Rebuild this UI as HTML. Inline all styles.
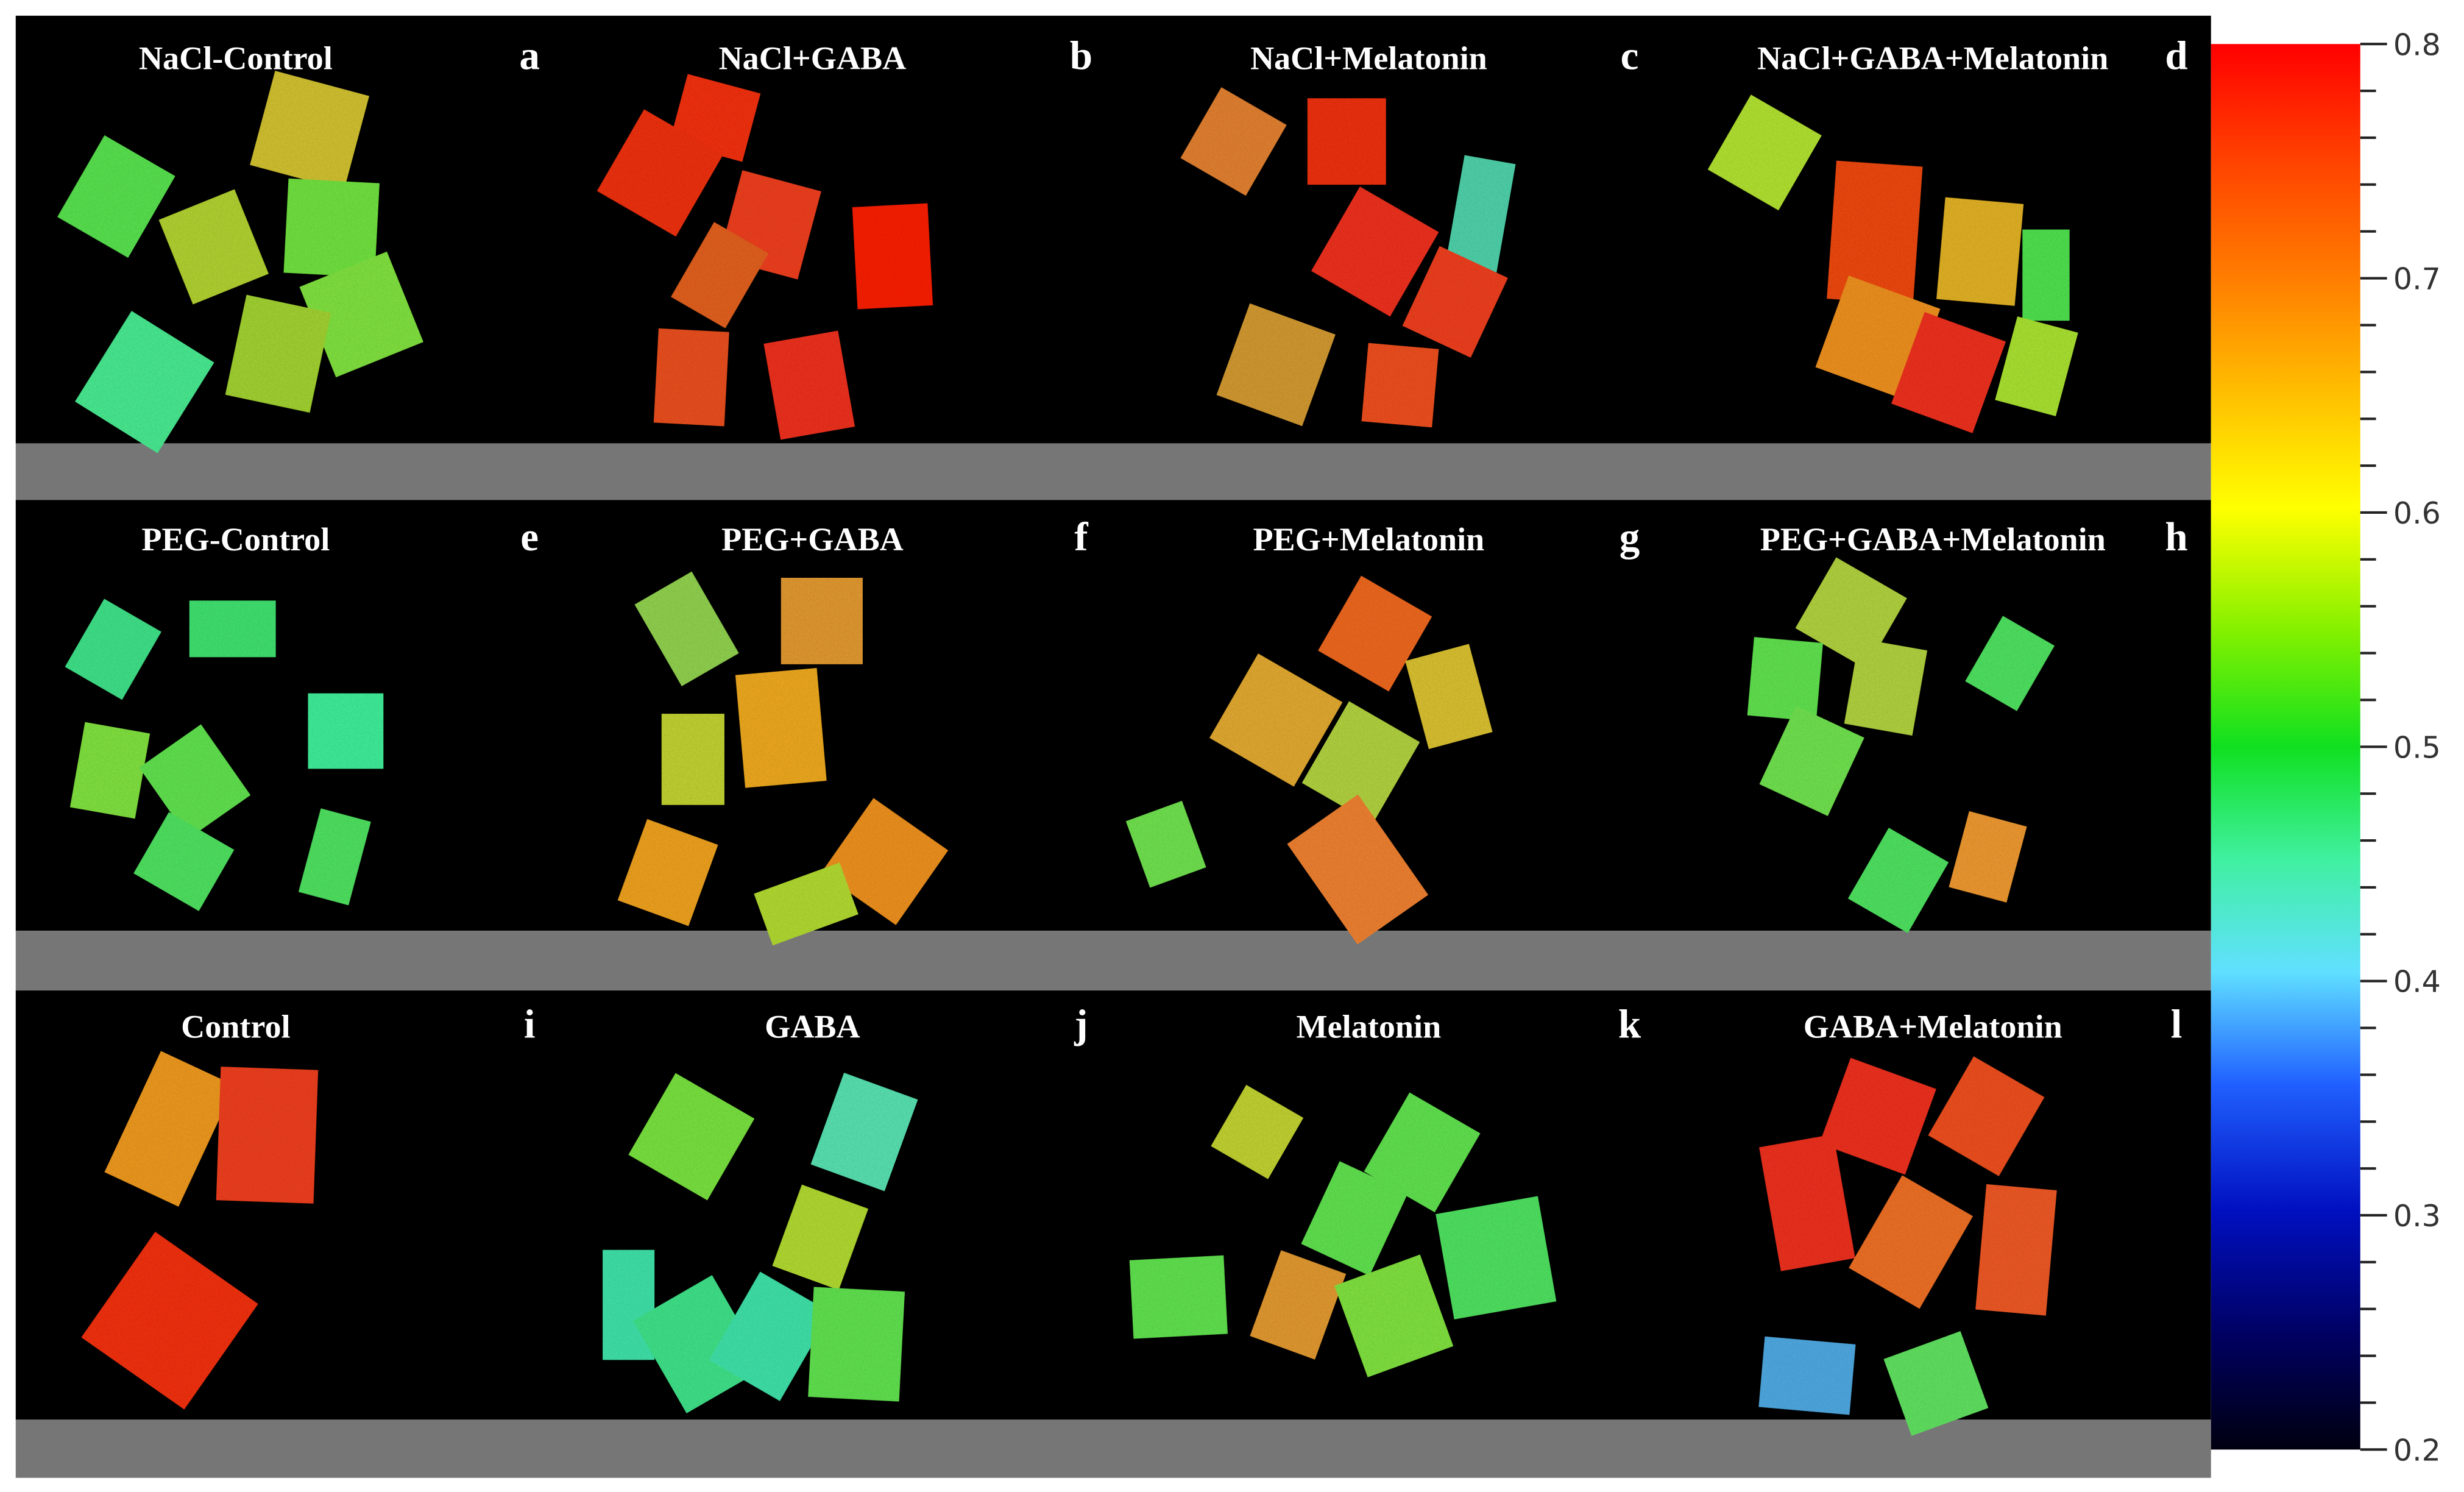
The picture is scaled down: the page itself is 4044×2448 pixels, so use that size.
<!DOCTYPE html>
<html><head><meta charset="utf-8"><style>
html,body{margin:0;padding:0;background:#fff;}
svg{display:block;}
</style></head><body>
<svg id="fig" xmlns="http://www.w3.org/2000/svg" width="4044" height="2448" viewBox="0 0 1568 949" preserveAspectRatio="none">
<defs>
<linearGradient id="cbar" x1="0" y1="1" x2="0" y2="0">
<stop offset="0" stop-color="#000010"/>
<stop offset="0.08" stop-color="#000060"/>
<stop offset="0.17" stop-color="#0010c0"/>
<stop offset="0.26" stop-color="#2060ff"/>
<stop offset="0.34" stop-color="#60e0ff"/>
<stop offset="0.42" stop-color="#40f0a0"/>
<stop offset="0.5" stop-color="#10e020"/>
<stop offset="0.58" stop-color="#80f000"/>
<stop offset="0.67" stop-color="#ffff00"/>
<stop offset="0.75" stop-color="#ffc000"/>
<stop offset="0.83" stop-color="#ff8000"/>
<stop offset="0.92" stop-color="#ff4000"/>
<stop offset="1" stop-color="#ff0000"/>
</linearGradient>
<filter id="grain" x="0" y="0" width="100%" height="100%">
<feTurbulence type="fractalNoise" baseFrequency="0.9" numOctaves="2" result="n"/>
<feColorMatrix in="n" type="matrix" values="0 0 0 0 0  0 0 0 0 0  0 0 0 0 0  0 0 0 0.22 0" result="d"/>
<feComposite in="d" in2="SourceGraphic" operator="in" result="dd"/>
<feMerge><feMergeNode in="SourceGraphic"/><feMergeNode in="dd"/></feMerge>
</filter>
</defs>
<g id="panels"></g>
<g id="colorbar"></g>
</svg>
<script>
// Leaf data per panel: [cx, cy, w, h, angle, colour] in figure units
const panelTitles = ["NaCl-Control","NaCl+GABA","NaCl+Melatonin","NaCl+GABA+Melatonin","PEG-Control","PEG+GABA","PEG+Melatonin","PEG+GABA+Melatonin","Control","GABA","Melatonin","GABA+Melatonin"];
const panelLetters = ["a","b","c","d","e","f","g","h","i","j","k","l"];
const leavesA = [[197,83,62,62,15,"#d0c030"],[74,125,52,60,30,"#58e050"],[136,157,52,58,-22,"#b0d030"],[211,145,58,60,3,"#70e040"],[230,200,60,62,-22,"#80e040"],[92,243,62,68,32,"#48e890"],[177,225,55,65,12,"#a0d030"]];
const leavesB = [[455,75,48,45,15,"#f03018"],[420,110,58,60,30,"#ec3018"],[490,143,52,58,15,"#ec4020"],[458,175,40,55,30,"#e06020"],[568,163,48,65,-3,"#f82010"],[440,240,45,60,3,"#e85020"],[515,245,48,62,-10,"#ec3020"]];
const leavesC = [[785,90,48,52,30,"#e08030"],[857,90,50,55,0,"#ec3018"],[875,160,58,62,30,"#ec3020"],[942,137,33,72,10,"#50d0a8"],[926,192,48,56,25,"#ec4020"],[812,232,58,62,20,"#d09830"],[891,245,45,50,5,"#ec5020"]];
const leavesD = [[1123,97,52,55,30,"#b0e030"],[1193,148,55,88,4,"#ec4818"],[1260,160,50,65,5,"#e0b028"],[1302,175,30,58,0,"#50e050"],[1195,215,62,62,20,"#ec9020"],[1240,237,55,62,20,"#ec3020"],[1296,233,40,55,15,"#a8e030"]];
const leavesE = [[72,413,42,50,30,"#40e088"],[148,400,55,36,0,"#40e070"],[220,465,48,48,0,"#40ec98"],[70,490,42,55,10,"#80e040"],[124,497,48,55,-35,"#60e050"],[117,548,48,45,30,"#50e060"],[213,545,33,55,15,"#50e060"]];
const leavesF = [[437,400,42,60,-30,"#90d050"],[523,395,52,55,0,"#e09830"],[441,483,40,58,0,"#c0d030"],[497,463,52,72,-5,"#eca820"],[425,555,48,55,20,"#eca020"],[563,548,58,58,35,"#ec9020"],[513,575,58,35,-20,"#b0d830"]];
const leavesG = [[875,403,52,55,30,"#ec6820"],[922,443,42,58,-15,"#d8c030"],[812,458,62,62,30,"#e0a830"],[866,485,52,60,30,"#b0d040"],[742,537,38,45,-20,"#70e050"],[864,553,55,78,-35,"#ec8030"]];
const leavesH = [[1178,390,52,52,30,"#b0d040"],[1279,422,38,48,30,"#50e060"],[1136,432,44,50,5,"#60e050"],[1200,437,44,55,10,"#b0d040"],[1153,484,48,55,25,"#70e050"],[1265,545,38,50,15,"#ec9830"],[1208,560,44,52,30,"#50e060"]];
const leavesI = [[108,718,52,85,25,"#ec9820"],[170,722,62,85,2,"#ec4020"],[108,840,80,82,35,"#f03018"]];
const leavesJ = [[440,723,58,60,30,"#78e040"],[550,720,50,62,20,"#58e0b0"],[522,787,45,55,20,"#b0d830"],[400,830,33,70,0,"#40e0a8"],[445,855,58,68,-30,"#40e088"],[490,850,52,65,30,"#40e0a8"],[545,855,58,70,3,"#60e050"]];
const leavesK = [[800,720,42,45,30,"#c0d030"],[905,733,52,58,30,"#60e050"],[862,775,48,58,25,"#60e050"],[750,825,60,50,-3,"#60e050"],[826,830,44,58,20,"#e09830"],[887,837,58,62,-20,"#80e040"],[952,800,66,68,-10,"#50e060"]];
const leavesL = [[1195,710,58,58,20,"#ec3020"],[1264,710,52,58,30,"#ec5020"],[1150,765,48,80,-10,"#ec3020"],[1216,790,52,68,30,"#ec7028"],[1283,795,45,80,5,"#ec5828"],[1150,875,58,45,5,"#50a8e0"],[1232,880,52,52,-20,"#60e060"]];
const panelLeaves = [leavesA,leavesB,leavesC,leavesD,leavesE,leavesF,leavesG,leavesH,leavesI,leavesJ,leavesK,leavesL];
// colorbar scale
const cbTicksMajor = [0.2,0.3,0.4,0.5,0.6,0.7,0.8];
const cbMin = 0.2, cbMax = 0.8, cbMinorStep = 0.02;

const NS = "http://www.w3.org/2000/svg";
function mk(tag, attrs, parent){const e=document.createElementNS(NS,tag);for(const k in attrs)e.setAttribute(k,attrs[k]);parent.appendChild(e);return e;}
const P = document.getElementById("panels");
const rowTop=[10,318,630], rowBlackBot=[282,592,903], rowGrayBot=[318,630,940];
const X0=10, X1=1407;
for(let r=0;r<3;r++){
  const bg=mk("rect",{x:X0,y:rowTop[r],width:X1-X0,height:rowBlackBot[r]-rowTop[r],fill:"#000"},P);
  
  
  const g=mk("rect",{x:X0,y:rowBlackBot[r],width:X1-X0,height:rowGrayBot[r]-rowBlackBot[r],fill:"#767676"},P);
  
  
}
const titleX=[150,517,871,1230], letterX=[337,688,1037,1385], titleY=[44,350,660], letterY=[44,350,660];
for(let i=0;i<12;i++){
  const r=Math.floor(i/4), c=i%4;
  const grp=mk("g",{},P);
  
  
  for(const L of panelLeaves[i]){
    const [cx,cy,w,h,a,col]=L;
    const rc=mk("rect",{x:cx-w/2,y:cy-h/2,width:w,height:h,fill:col,filter:"url(#grain)",transform:`rotate(${a} ${cx} ${cy})`},grp);
    
    
  }
  const t=mk("text",{x:titleX[c],y:titleY[r],fill:"#fff","font-family":"Liberation Serif, serif","font-weight":"bold","font-size":21,"text-anchor":"middle"},grp);
  t.textContent=panelTitles[i];
  
  
  const l=mk("text",{x:letterX[c],y:letterY[r],fill:"#fff","font-family":"Liberation Serif, serif","font-weight":"bold","font-size":26,"text-anchor":"middle"},grp);
  l.textContent=panelLetters[i];
  
  
}
// colorbar
const C=document.getElementById("colorbar");


const cbX0=1407, cbX1=1502, cbY0=28, cbY1=922;
function yv(v){return cbY1-(v-cbMin)/(cbMax-cbMin)*(cbY1-cbY0);}
const cb=mk("rect",{x:cbX0,y:cbY0,width:cbX1-cbX0,height:cbY1-cbY0,fill:"url(#cbar)"},C);


const nMinor=Math.round((cbMax-cbMin)/cbMinorStep);
for(let k=0;k<=nMinor;k++){
  const v=cbMin+k*cbMinorStep;
  const major=cbTicksMajor.some(m=>Math.abs(m-v)<1e-6);
  const ln=mk("line",{x1:cbX1,x2:cbX1+(major?17:10),y1:yv(v),y2:yv(v),stroke:"#222","stroke-width":1.6},C);
  
  
}
for(const v of cbTicksMajor){
  const t=mk("text",{x:cbX1+21,y:yv(v)+7,fill:"#333","font-family":"DejaVu Sans, sans-serif","font-size":19},C);
  t.textContent=v.toFixed(1);
  
  
}
</script>
</body></html>
